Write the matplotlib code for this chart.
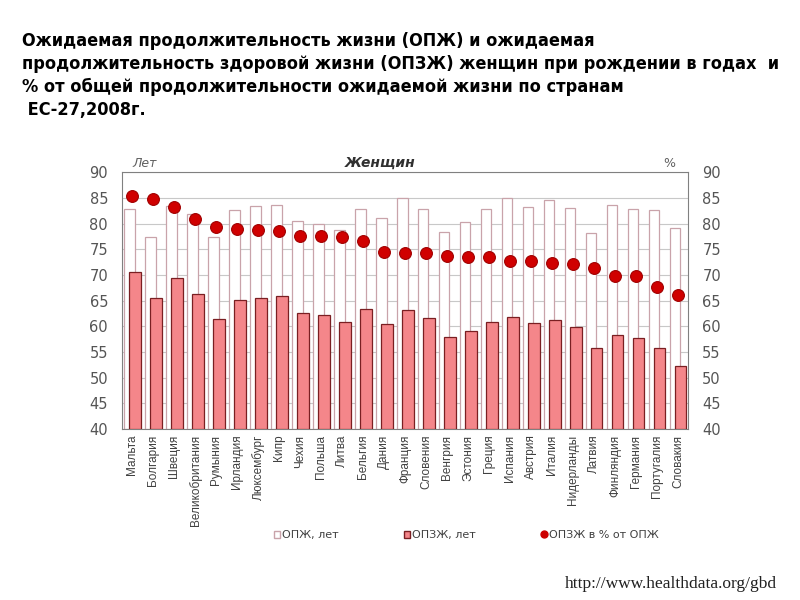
import matplotlib.pyplot as plt
import numpy as np
from matplotlib.lines import Line2D
from matplotlib.patches import Patch

countries = ['Мальта', 'Болгария', 'Швеция', 'Великобритания', 'Румыния', 'Ирландия',
             'Люксембург', 'Кипр', 'Чехия', 'Польша', 'Литва', 'Бельгия', 'Дания',
             'Франция', 'Словения', 'Венгрия', 'Эстония', 'Греция', 'Испания', 'Австрия',
             'Италия', 'Нидерланды', 'Латвия', 'Финляндия', 'Германия', 'Португалия',
             'Словакия']
opzh = [82.9, 77.4, 83.4, 81.9, 77.4, 82.7, 83.4, 83.6, 80.5, 80.0, 78.8, 82.8, 81.0,
        85.0, 82.9, 78.4, 80.3, 82.9, 85.0, 83.2, 84.6, 83.1, 78.1, 83.6, 82.9, 82.7, 79.2]
opzzh = [70.6, 65.5, 69.4, 66.2, 61.4, 65.2, 65.6, 65.8, 62.5, 62.1, 60.8, 63.4, 60.4,
         63.1, 61.6, 57.9, 59.0, 60.8, 61.9, 60.6, 61.2, 59.9, 55.8, 58.3, 57.7, 55.8, 52.3]
pct = [85.3, 84.7, 83.2, 80.8, 79.3, 78.9, 78.7, 78.5, 77.5, 77.5, 77.4, 76.6, 74.5,
       74.3, 74.3, 73.7, 73.5, 73.5, 72.8, 72.8, 72.3, 72.1, 71.4, 69.8, 69.7, 67.6, 66.0]

x = np.arange(len(countries))

fig = plt.figure(figsize=(8, 6), dpi=100)
ax = fig.add_axes([0.1525, 0.285, 0.708, 0.428])

ax.bar(x - 0.14, np.array(opzh) - 40, bottom=40, width=0.5, color='white',
       edgecolor='#c9a3aa', linewidth=0.9, zorder=2)
ax.bar(x + 0.13, np.array(opzzh) - 40, bottom=40, width=0.55, color='#f4868a',
       edgecolor='#7a1f22', linewidth=0.9, zorder=3)
ax.plot(x, pct, 'o', color='#d00000', markeredgecolor='#a00000', markeredgewidth=0.8,
        markersize=8.5, zorder=4)

ax.set_xlim(-0.5, len(countries) - 0.5)
ax.set_ylim(40, 90)
ax.set_yticks(range(40, 91, 5))
ax.yaxis.grid(True, color='#c8c8c8', linewidth=0.8, zorder=0)
ax.set_axisbelow(True)
ax.set_xticks(x)
ax.set_xticklabels(countries, rotation=90, fontsize=8.5, color='#404040',
                   family='Liberation Sans')
ax.tick_params(axis='x', length=0, pad=4)
ax.tick_params(axis='y', length=0, labelsize=10.5, labelcolor='#555555', pad=10)
for s in ax.spines.values():
    s.set_color('#808080')

ax2 = ax.twinx()
ax2.set_ylim(40, 90)
ax2.set_yticks(range(40, 91, 5))
ax2.tick_params(axis='y', length=0, labelsize=10.5, labelcolor='#555555', pad=10)
for s in ax2.spines.values():
    s.set_visible(False)

fig.text(0.166, 0.722, 'Лет', fontsize=9, style='italic', color='#606060')
fig.text(0.475, 0.722, 'Женщин', fontsize=10, style='italic', weight='bold', color='#303030',
         ha='center')
fig.text(0.829, 0.722, '%', fontsize=9, color='#606060')

title = ('Ожидаемая продолжительность жизни (ОПЖ) и ожидаемая\n'
         'продолжительность здоровой жизни (ОПЗЖ) женщин при рождении в годах  и\n'
         '% от общей продолжительности ожидаемой жизни по странам\n'
         ' ЕС-27,2008г.')
fig.text(0.027, 0.947, title, fontsize=13, weight='bold', va='top', linespacing=1.35,
         family='DejaVu Sans', stretch='condensed')

handles = [Patch(facecolor='white', edgecolor='#c9a3aa'),
           Patch(facecolor='#f4868a', edgecolor='#7a1f22'),
           Line2D([], [], marker='o', linestyle='', color='#cc0000', markersize=5)]
labels = ['ОПЖ, лет', 'ОПЗЖ, лет', 'ОПЗЖ в % от ОПЖ']
fig.legend(handles, labels, loc='center', bbox_to_anchor=(0.583, 0.108), ncol=3,
           frameon=False, fontsize=8, handlelength=0.6, handleheight=0.6,
           handletextpad=0.2, columnspacing=5.8, labelcolor='#404040')

fig.text(0.706, 0.02, 'http://www.healthdata.org/gbd', fontsize=12.5,
         family='Liberation Serif', color='#202020')

fig.savefig('out.png', dpi=100)
